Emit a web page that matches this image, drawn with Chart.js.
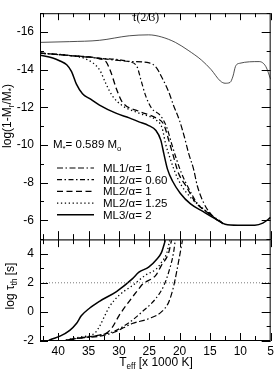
<!DOCTYPE html>
<html>
<head>
<meta charset="utf-8">
<script src="https://cdn.jsdelivr.net/npm/chart.js@4"></script>
<style>
html, body { margin: 0; padding: 0; background: #fff; }
canvas { display: block; }
</style>
</head>
<body>
<canvas id="grafik" width="277" height="373"></canvas>
<script>
// ======= Data: upper panel, log(1 - Mr/M*) vs Teff [1000 K] =======
const seriesNames = ['ML1/\u03b1= 1', 'ML2/\u03b1= 0.60', 'ML2/\u03b1= 1', 'ML2/\u03b1= 1.25', 'ML3/\u03b1= 2'];

const tauT = [43, 38.1, 33.2, 28.3, 25.1, 23.0, 20.7, 18.6, 16.4, 14.8, 13.3, 12.5, 11.7, 11.2, 10.8, 10.1, 6.9, 5.8, 5.0];
const tauM = [-15.45, -15.49, -15.56, -15.8, -15.85, -15.74, -15.45, -15.03, -14.51, -14.0, -13.4, -13.28, -13.32, -13.66, -14.17, -14.34, -14.43, -14.17, -13.49];

const ml1T = [43, 38, 33, 28.3, 25, 23.8, 23.0, 21.8, 21.0, 20.0, 19.2, 18.5, 17.7, 17.1, 16.1, 14.8, 13.3, 12.8];
const ml1M = [-14.88, -14.75, -14.6, -14.44, -14.36, -14.1, -13.64, -12.82, -12.1, -11.28, -10.41, -9.54, -8.72, -7.85, -6.97, -6.31, -5.95, -5.82];

const ml2aT = [43, 38, 33, 28.3, 27.0, 26.4, 25.6, 24.6, 23.1, 22.1, 21.3, 20.5, 19.7, 18.5, 16.9, 15.3, 13.7, 12.8];
const ml2aM = [-14.88, -14.75, -14.6, -14.42, -14.15, -13.49, -12.62, -11.95, -11.54, -10.92, -10.05, -9.23, -8.51, -7.69, -6.82, -6.41, -6.0, -5.82];

const ml2bT = [43, 38, 33.2, 32.1, 31.3, 30.4, 29.5, 26.7, 23.9, 22.6, 21.8, 21.0, 20.2, 19.0, 17.4, 15.8, 13.7, 12.8];
const ml2bM = [-14.88, -14.75, -14.58, -14.41, -13.85, -12.97, -12.31, -11.79, -11.44, -11.08, -10.26, -9.38, -8.51, -7.85, -6.97, -6.51, -6.0, -5.82];

const ml2cT = [43, 38, 35.4, 33.2, 32.1, 31.1, 29.5, 26.7, 23.9, 22.9, 22.3, 21.5, 20.7, 19.7, 18.1, 16.9, 15.3, 13.7, 12.8];
const ml2cM = [-14.88, -14.75, -14.56, -14.0, -13.23, -12.62, -12.1, -11.69, -11.33, -10.92, -10.05, -9.23, -8.51, -7.85, -7.18, -6.82, -6.41, -6.0, -5.82];

const ml3T = [43, 40.9, 39.7, 38.6, 37.8, 37.0, 36.0, 34.8, 33.2, 30.5, 28.3, 26.7, 25.1, 23.9, 23.1, 22.6, 22.0, 21.2, 19.9, 18.2, 16.1, 13.7, 12.5, 10.4, 7.6, 6.3, 5.0];
const ml3M = [-14.77, -14.62, -14.46, -14.26, -13.9, -13.23, -12.72, -12.46, -12.12, -11.69, -11.44, -11.23, -11.03, -10.77, -10.26, -9.54, -8.72, -8.1, -7.44, -6.87, -6.46, -6.0, -5.79, -5.74, -5.74, -5.85, -6.15];

// ======= Data: lower panel, log tau_th [s] =======
const th1T = [40, 39.4, 36.5, 33.2, 30.8, 27.8, 25.1, 23.0, 21.8, 21.0, 20.5, 19.9, 19.5];
const th1V = [-2.05, -2.0, -1.8, -1.67, -1.4, -0.8, -0.47, 0.0, 0.67, 1.73, 2.73, 4.07, 5.0];

const th2aT = [40, 39.4, 36.5, 33.2, 30.8, 28.3, 26.2, 23.9, 22.6, 21.8, 21.0, 20.7];
const th2aV = [-2.05, -2.0, -1.8, -1.6, -1.33, -0.73, 0.0, 0.93, 1.8, 2.73, 4.07, 5.0];

const th2bT = [40, 39.4, 36.5, 33.2, 32.1, 31.1, 30.0, 28.3, 26.7, 26.2, 23.9, 23.0, 21.8, 21.3];
const th2bV = [-2.05, -2.0, -1.8, -1.6, -1.47, -1.07, -0.27, 0.73, 1.6, 1.87, 2.53, 3.2, 4.07, 5.0];

const th2cT = [40, 39.4, 36.5, 34.0, 33.2, 32.4, 31.6, 30.0, 27.8, 25.6, 23.9, 23.0, 22.1, 21.6];
const th2cV = [-2.05, -2.0, -1.73, -1.47, -1.0, -0.33, 0.33, 1.13, 1.8, 2.53, 2.93, 3.4, 4.07, 5.0];

const th3T = [41.8, 41.4, 39.7, 38.1, 37.0, 36.2, 34.8, 33.2, 30.4, 27.8, 26.7, 25.1, 23.8, 23.0, 22.3];
const th3V = [-2.05, -1.93, -1.67, -1.27, -0.8, -0.27, 0.27, 0.73, 1.4, 2.27, 2.73, 3.07, 3.6, 4.07, 5.0];

const refT = [43, 5];
const refV = [2, 2];

// ======= Axis ticks =======
const xTicks = [40, 35, 30, 25, 20, 15, 10, 5];
const xMinor = [42.5, 37.5, 32.5, 27.5, 22.5, 17.5, 12.5, 7.5];
const topTicks = [-16, -14, -12, -10, -8, -6];
const topMinor = [-17, -15, -13, -11, -9, -7, -5];
const botTicks = [4, 2, 0, -2];
const botMinor = [5, 3, 1, -1];

// ======= Styles per series (ML1, ML2 .60, ML2 1, ML2 1.25, ML3) =======
const dashes = [[6, 2.5, 1.5, 2.5, 6, 2.5], [5, 2.5, 1.5, 2.5], [6, 3.5], [1.3, 2.6], []];
const widths = [1.2, 1.2, 1.3, 1.3, 1.5];

function pts(xs, ys) {
    return xs.map((v, i) => ({ x: v, y: ys[i] }));
}

const topData = [[ml1T, ml1M], [ml2aT, ml2aM], [ml2bT, ml2bM], [ml2cT, ml2cM], [ml3T, ml3M]];
const botData = [[th1T, th1V], [th2aT, th2aV], [th2bT, th2bV], [th2cT, th2cV], [th3T, th3V]];

const datasets = [];
datasets.push({ label: '\u03c4(2/3)', data: pts(tauT, tauM), yAxisID: 'yTop', borderWidth: 0.8, borderColor: '#222' });
topData.forEach((d, i) => {
    datasets.push({ label: seriesNames[i], data: pts(d[0], d[1]), yAxisID: 'yTop',
        borderDash: dashes[i], borderWidth: widths[i], borderColor: '#000' });
});
datasets.push({ label: 'ref', data: pts(refT, refV), yAxisID: 'yBot', borderDash: [1, 2], borderWidth: 0.8, borderColor: '#555', tension: 0 });
botData.forEach((d, i) => {
    datasets.push({ label: seriesNames[i], data: pts(d[0], d[1]), yAxisID: 'yBot',
        borderDash: dashes[i], borderWidth: widths[i], borderColor: '#000' });
});

// ======= Helper: text with subscripts =======
const SANS = '"Liberation Sans", Arial, sans-serif';
function richWidth(ctx, parts, size) {
    let w = 0;
    for (const [txt, sub] of parts) {
        ctx.font = (sub ? size * 0.68 : size) + 'px ' + SANS;
        w += ctx.measureText(txt).width;
    }
    return w;
}
function drawRich(ctx, parts, x, y, size) {
    let cx = x;
    for (const [txt, sub] of parts) {
        ctx.font = (sub ? size * 0.68 : size) + 'px ' + SANS;
        ctx.fillText(txt, cx, y + (sub ? size * 0.28 : 0));
        cx += ctx.measureText(txt).width;
    }
}

// ======= Plugin: frame, inward ticks, titles, legend =======
const decor = {
    id: 'decor',
    afterDatasetsDraw(chart) {
        const { ctx } = chart;
        const x = chart.scales.x, yT = chart.scales.yTop, yB = chart.scales.yBot;
        const l = x.left, r = x.right;
        ctx.save();
        ctx.strokeStyle = '#000';
        ctx.lineWidth = 1;
        ctx.setLineDash([]);

        // frames
        ctx.strokeRect(l + 0.5, yT.top + 0.5, r - l - 1, yT.bottom - yT.top);
        ctx.strokeRect(l + 0.5, yB.top + 0.5, r - l - 1, yB.bottom - yB.top - 1);
        ctx.strokeStyle = '#555';
        ctx.lineWidth = 1.5;
        ctx.beginPath(); ctx.moveTo(l, yB.top + 0.5); ctx.lineTo(r, yB.top + 0.5); ctx.stroke();

        // x ticks on the four horizontal edges
        ctx.strokeStyle = '#000';
        ctx.lineWidth = 1;
        const edges = [[yT.top, 1, 7, 4], [yT.bottom, -1, 8, 5], [yB.top, 1, 8, 5], [yB.bottom, -1, 8, 5]];
        ctx.beginPath();
        for (const [ey, dir, big, small] of edges) {
            xTicks.forEach(t => { const px = Math.round(x.getPixelForValue(t)) + 0.5; ctx.moveTo(px, ey); ctx.lineTo(px, ey + dir * big); });
            xMinor.forEach(t => { const px = Math.round(x.getPixelForValue(t)) + 0.5; ctx.moveTo(px, ey); ctx.lineTo(px, ey + dir * small); });
        }
        // y ticks, left and right
        const yTickSets = [[yT, topTicks, topMinor], [yB, botTicks, botMinor]];
        for (const [sc, major, minor] of yTickSets) {
            major.forEach(t => { const py = Math.round(sc.getPixelForValue(t)) + 0.5; ctx.moveTo(l, py); ctx.lineTo(l + 8, py); ctx.moveTo(r, py); ctx.lineTo(r - 9, py); });
            minor.forEach(t => { const py = Math.round(sc.getPixelForValue(t)) + 0.5; ctx.moveTo(l, py); ctx.lineTo(l + 4, py); ctx.moveTo(r, py); ctx.lineTo(r - 4, py); });
        }
        ctx.stroke();

        ctx.fillStyle = '#000';
        ctx.textBaseline = 'alphabetic';
        ctx.textAlign = 'left';

        // tau(2/3) label
        ctx.font = '11.5px "Liberation Serif", serif';
        ctx.fillText('\u03c4(2/3)', 132, 21);

        // legend header
        drawRich(ctx, [['M', false], ['*', true], ['= 0.589 M', false], ['o', true]], 53, 148, 11.5);

        // legend rows
        seriesNames.forEach((name, i) => {
            const ry = 168 + i * 11.7;
            ctx.setLineDash(dashes[i]);
            ctx.lineWidth = widths[i];
            ctx.beginPath(); ctx.moveTo(57, ry); ctx.lineTo(94, ry); ctx.stroke();
            ctx.setLineDash([]);
            ctx.font = '11.5px ' + SANS;
            ctx.fillText(name, 103, ry + 4);
        });

        // x title
        const xt = [['T', false], ['eff', true], [' [x 1000 K]', false]];
        const wx = richWidth(ctx, xt, 12);
        drawRich(ctx, xt, 156 - wx / 2, 366, 12);

        // y titles (rotated)
        const yt1 = [['log(1-M', false], ['r', true], ['/M', false], ['*', true], [')', false]];
        ctx.save();
        ctx.translate(11, 116);
        ctx.rotate(-Math.PI / 2);
        drawRich(ctx, yt1, -richWidth(ctx, yt1, 12) / 2, 0, 12);
        ctx.restore();

        const yt2 = [['log \u03c4', false], ['th', true], [' [s]', false]];
        ctx.save();
        ctx.translate(14, 286);
        ctx.rotate(-Math.PI / 2);
        drawRich(ctx, yt2, -richWidth(ctx, yt2, 12) / 2, 0, 12);
        ctx.restore();

        ctx.restore();
    }
};

const tickFont = { family: 'Liberation Sans', size: 12 };

new Chart(document.getElementById('grafik').getContext('2d'), {
    type: 'line',
    data: { datasets: datasets },
    options: {
        responsive: false,
        animation: false,
        devicePixelRatio: 1,
        layout: { autoPadding: false, padding: { top: 1, right: 4, left: 0, bottom: 0 } },
        plugins: { legend: { display: false }, tooltip: { enabled: false } },
        elements: {
            point: { radius: 0 },
            line: { tension: 0, cubicInterpolationMode: 'monotone', fill: false }
        },
        scales: {
            x: {
                type: 'linear', min: 5, max: 43, reverse: true,
                grid: { display: false, drawTicks: false }, border: { display: false },
                afterBuildTicks: s => { s.ticks = xTicks.map(v => ({ value: v })); },
                afterFit: s => { s.height = 32; },
                ticks: { font: tickFont, color: '#000', padding: 3, maxRotation: 0, autoSkip: false }
            },
            yTop: {
                type: 'linear', position: 'left', stack: 'panels', stackWeight: 234, weight: 2,
                min: -17, max: -5, reverse: true,
                grid: { display: false, drawTicks: false }, border: { display: false },
                afterBuildTicks: s => { s.ticks = topTicks.map(v => ({ value: v })); },
                afterFit: s => { s.width = 40; },
                ticks: { font: tickFont, color: '#000', padding: 6 }
            },
            yBot: {
                type: 'linear', position: 'left', stack: 'panels', stackWeight: 105.5, weight: 1,
                min: -2, max: 5,
                grid: { display: false, drawTicks: false }, border: { display: false },
                afterBuildTicks: s => { s.ticks = botTicks.map(v => ({ value: v })); },
                afterFit: s => { s.width = 40; },
                ticks: { font: tickFont, color: '#000', padding: 6 }
            }
        }
    },
    plugins: [decor]
});
</script>
</body>
</html>
